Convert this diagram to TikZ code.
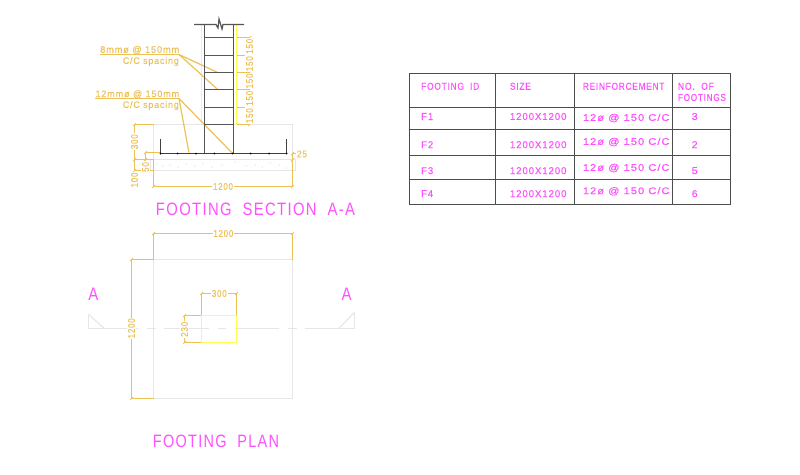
\documentclass[tikz,border=0pt]{standalone}
\usepackage{fontspec}
\usepackage{graphicx}
\setmainfont[LetterSpace=9,FakeBold=0.15]{Liberation Sans}
\newfontfamily\titlefont[LetterSpace=9]{Liberation Sans}
\definecolor{dimc}{HTML}{EDC156}
\definecolor{magc}{HTML}{FF50FF}
\definecolor{darkc}{HTML}{555555}
\definecolor{lightc}{HTML}{E6E6E6}
\definecolor{yelc}{HTML}{FFFF50}
\newcommand\fitt[3]{\resizebox{#1pt}{#2pt}{#3}}
\newcommand\tk[2]{\draw[dimline,line width=.7pt] ({#1-1.6},{#2+1.6}) -- ({#1+1.6},{#2-1.6});}
\tikzset{
  dimline/.style={draw=dimc,line width=1.2pt},
  darkline/.style={draw=darkc,line width=1.2pt},
  lightline/.style={draw=lightc,line width=1.1pt},
  yelline/.style={draw=yelc,line width=1.2pt},
  gridline/.style={draw=black!70,line width=1pt},
  dimtext/.style={text=dimc,fill=white,inner sep=.8pt},
  notetext/.style={text=dimc,inner sep=0pt},
  magtext/.style={text=magc,inner sep=0pt,anchor=west},
  magmid/.style={text=magc,inner sep=0pt,font=\titlefont}
}
\begin{document}
\begin{tikzpicture}[x=1pt,y=-1pt]
\useasboundingbox[fill=white] (0,0) rectangle (800,474);
% ---------- section: footing
\draw[lightline] (153.5,159.5) -- (153.5,124.5) -- (292.5,124.5) -- (292.5,159.5);
\draw[lightline] (150.5,159.5) rectangle (295.5,170.5);
\foreach \x/\y in {157/163,163/166,170/165,178/167,186/164,195/166,203/163,212/167,222/165,235/162,246/166,255/165,262/167,270/163,279/165,286/168,291/162}
  \fill[black!25] (\x,\y) circle (.5);
% ---------- section: yellow column faces
\draw[yelline] (201.5,24.5) -- (201.5,124.5);
\draw[yelline] (236.5,24.5) -- (236.5,124.5);
% ---------- dimensions, section
\foreach \y in {37.5,55.5,72.5,89.5,107.5,124.5} {\draw[dimline] (236.5,\y) -- (249.5,\y);}
\draw[dimline] (249.5,37.5) -- (249.5,124.5);
\foreach \y in {37.5,55.5,72.5,89.5,107.5,124.5} {\tk{249.5}{\y}}
\draw[dimline] (153.5,124.5) -- (134.5,124.5) -- (134.5,170.5);
\draw[dimline] (134.5,159.5) -- (153.5,159.5);
\draw[dimline] (134.5,170.5) -- (153.5,170.5);
\draw[dimline] (160,152.5) -- (145.5,152.5) -- (145.5,170.5);
\foreach \x/\y in {134.5/124.5,134.5/159.5,134.5/170.5,145.5/152.5,145.5/159.5,145.5/170.5} {\tk{\x}{\y}}
\draw[dimline] (153.5,159.5) -- (153.5,186.5) -- (292.5,186.5) -- (292.5,153.5);
\draw[dimline] (292.5,153.5) -- (296,153.5);
\foreach \x/\y in {153.5/186.5,292.5/186.5,292.5/153.5,292.5/159.5} {\tk{\x}{\y}}
% ---------- leaders
\draw[dimline] (100,54.5) -- (179,54.5);
\draw[dimline] (179,54.5) -- (217.7,72.5);
\draw[dimline] (179,54.5) -- (217.7,89.5);
\draw[dimline] (95.3,98.5) -- (179,98.5);
\draw[dimline] (179,98.5) -- (232.7,153.5);
\draw[dimline] (179,98.5) -- (189,152.7);
% ---------- column and bars
\draw[darkline] (194,24.5) -- (216,24.5) -- (218,28) -- (219,19) -- (222,29) -- (223,24.5) -- (244,24.5);
\draw[darkline] (204.5,24.5) -- (204.5,153.5);
\draw[darkline] (233.5,24.5) -- (233.5,153.5);
\foreach \y in {37.5,55.5,72.5,89.5,107.5,124.5} {\draw[darkline] (204.5,\y) -- (233.5,\y);}
\draw[draw=black!75,line width=1pt] (160.5,138.5) -- (160.5,153.5) -- (286.5,153.5) -- (286.5,138.5);
\foreach \x in {160.5,177.7,196,214.3,232.7,250.7,269,286.5} \fill[black] (\x,153.5) circle (1);
% ---------- section labels
\node[notetext,anchor=west] (n8a) at (100,50) {\fitt{79}{6.8}{8mmø\ @\ 150mm}};
\node[notetext,anchor=east] (n8b) at (179,61.5) {\fitt{56}{6.8}{C/C\ spacing}};
\node[notetext,anchor=west] (n12a) at (95.3,94.3) {\fitt{83.7}{6.8}{12mmø\ @\ 150mm}};
\node[notetext,anchor=east] (n12b) at (179,105.5) {\fitt{56}{6.8}{C/C\ spacing}};
\node[dimtext,rotate=90] (d1) at (249.5,46.3) {\fitt{15}{6.8}{150}};
\node[dimtext,rotate=90] (d2) at (249.5,63.7) {\fitt{15}{6.8}{150}};
\node[dimtext,rotate=90] (d3) at (249.5,81) {\fitt{15}{6.8}{150}};
\node[dimtext,rotate=90] (d4) at (249.5,98.3) {\fitt{15}{6.8}{150}};
\node[dimtext,rotate=90] (d5) at (249.5,115.7) {\fitt{15}{6.8}{150}};
\node[dimtext,rotate=90] (d300) at (134.5,141.7) {\fitt{15}{6.8}{300}};
\node[dimtext,rotate=90] (d100) at (134.5,180) {\fitt{15}{6.8}{100}};
\node[dimtext,rotate=90] (d50) at (145.5,167) {\fitt{10}{6.8}{50}};
\node[notetext] (d25) at (302,154) {\fitt{10}{6.8}{25}};
\node[dimtext] (d1200s) at (223,186.5) {\fitt{20}{6.8}{1200}};
\node[magmid] (t1) at (255.5,209.5) {\fitt{199}{12.5}{FOOTING\ \ SECTION\ \ A-A}};
% ---------- plan
\draw[lightline] (153.5,259.5) rectangle (292.5,398.5);
\foreach \a/\b in {88.3/137.7,146.7/155.7,164.3/209,217.7/226,235/279.3,287.7/296.7,305.3/354.5}
  \draw[lightline] (\a,328.5) -- (\b,328.5);
\draw[lightline] (88.5,314.3) -- (88.5,328.5);
\draw[lightline] (88.5,314.3) -- (104.3,328.5);
\draw[lightline] (354.5,312.3) -- (354.5,328.5);
\draw[lightline] (354.5,312.3) -- (338.7,328.5);
\draw[dimline] (153.5,259.5) -- (153.5,233.5) -- (292.5,233.5) -- (292.5,259.5);
\draw[dimline] (153.5,259.5) -- (131.5,259.5) -- (131.5,398.5) -- (153.5,398.5);
\draw[dimline] (201.5,315.5) -- (201.5,293.5) -- (236.5,293.5) -- (236.5,315.5);
\draw[dimline] (201.5,315.5) -- (184.5,315.5) -- (184.5,342.5) -- (201.5,342.5);
\foreach \x/\y in {153.5/233.5,292.5/233.5,131.5/259.5,131.5/398.5,201.5/293.5,236.5/293.5,184.5/315.5,184.5/342.5} {\tk{\x}{\y}}
\draw[yelline] (201.5,315.5) rectangle (236.5,342.5);
\node[dimtext] (p1200a) at (223.3,233.5) {\fitt{20}{6.8}{1200}};
\node[dimtext,rotate=90] (p1200b) at (131.5,328.3) {\fitt{20}{6.8}{1200}};
\node[dimtext] (p300) at (219.3,293.5) {\fitt{15}{6.8}{300}};
\node[dimtext,rotate=90] (p230) at (184.5,329.3) {\fitt{15}{6.8}{230}};
\node[magmid] (aL) at (93.3,294) {\fitt{10}{12.5}{A}};
\node[magmid] (aR) at (346.7,294) {\fitt{10}{12.5}{A}};
\node[magmid] (t2) at (216,441.5) {\fitt{126}{12.5}{FOOTING\ \ PLAN}};
% ---------- table
\draw[gridline] (409.5,73.5) rectangle (730.5,204.5);
\foreach \y in {107.5,129.5,155.5,179.5} {\draw[gridline] (409.5,\y) -- (730.5,\y);}
\foreach \x in {495.5,574.5,672.5} {\draw[gridline] (\x,73.5) -- (\x,204.5);}
\node[magtext] (h1) at (421,86.3) {\fitt{58}{7}{FOOTING\ \ ID}};
\node[magtext] (h2) at (509.7,86.3) {\fitt{21}{7}{SIZE}};
\node[magtext] (h3) at (582.7,86.3) {\fitt{81.5}{7}{REINFORCEMENT}};
\node[magtext] (h4a) at (677.7,86.3) {\fitt{36}{7}{NO.\ \ OF}};
\node[magtext] (h4b) at (677.7,97.5) {\fitt{48}{7}{FOOTINGS}};
\foreach \n/\f/\q/\ya/\yb in {1/F1/3/116.5/118,2/F2/2/144.7/142,3/F3/5/170.7/168,4/F4/6/193.7/191.3} {
  \node[magtext] (id\n) at (421,\ya) {\fitt{12}{7}{\f}};
  \node[magtext] (sz\n) at (509.7,\ya) {\fitt{56.6}{7}{1200X1200}};
  \node[magtext] (re\n) at (582.7,\yb) {\fitt{86.6}{7}{12ø\ @\ 150\ C/C}};
  \node[magtext] (qt\n) at (691.5,\ya) {\fitt{6}{7}{\q}};
}
\end{tikzpicture}
\end{document}
